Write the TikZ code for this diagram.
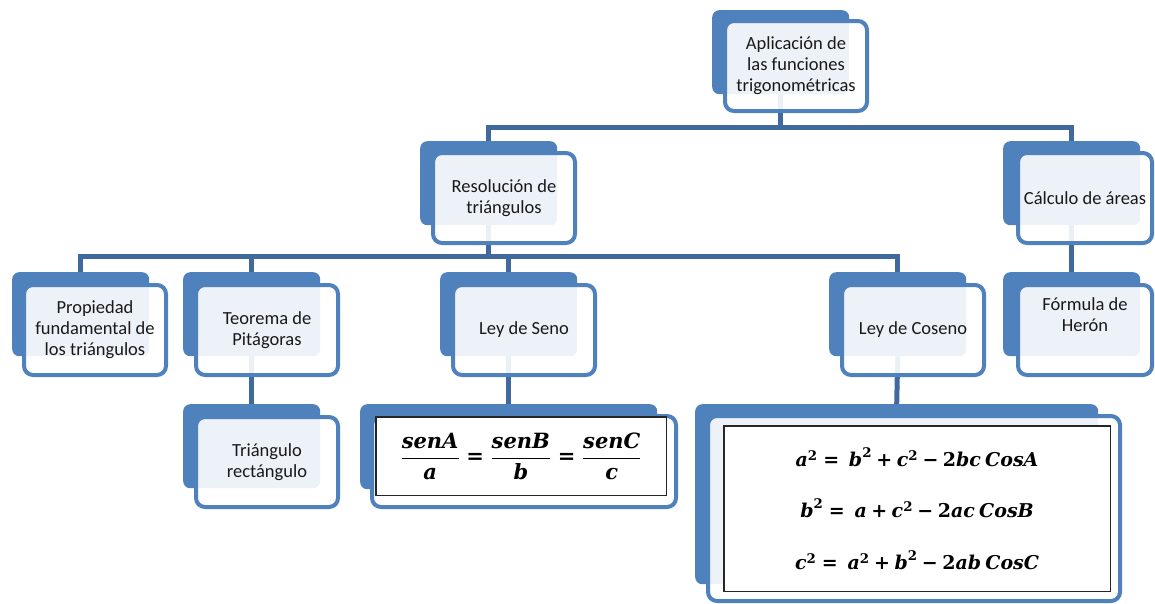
\documentclass[tikz,border=0pt]{standalone}
\usepackage{amsmath}
\usepackage{fontspec}
\setmainfont{Carlito}
\newfontfamily\dvs{DejaVu Serif}
\newcommand\fv[1]{\text{\dvs\bfseries\itshape #1}}
\newcommand\fd[1]{\text{\dvs\bfseries #1}}
\newcommand\meq{\mathrel{\fd{=}}}
\newcommand\mpl{\mathbin{\fd{+}}}
\newcommand\mmi{\mathbin{\fd{−}}}
\newcommand\sq{^{\fd{2}}}
\definecolor{acc}{RGB}{79,129,189}
\definecolor{conn}{RGB}{64,106,158}
\definecolor{txt}{RGB}{25,25,25}
\pgfdeclarelayer{bg}
\pgfsetlayers{bg,main}
\tikzset{
  backb/.style={fill=acc, rounded corners=7pt, inner sep=0pt, minimum width=137pt, minimum height=84pt, anchor=north west},
  frontb/.style={draw=acc, line width=4pt, fill=white, fill opacity=0.9, text opacity=1, rounded corners=9pt,
    inner sep=0pt, minimum width=142pt, minimum height=90pt, anchor=north west, align=center,
    text=txt, font=\fontsize{18.5}{21}\selectfont},
  plaintext/.style={inner sep=0pt, align=center, text=txt, font=\fontsize{18.5}{21}\selectfont},
  conline/.style={draw=conn, line width=5pt},
  inbox/.style={draw=black!85, line width=1.6pt, fill=white, inner sep=0pt, anchor=north west, align=center,
    font=\fontsize{19}{51.5}\selectfont\boldmath}
}
\begin{document}
\begin{tikzpicture}[x=1pt,y=-1pt]
\useasboundingbox (0,0) rectangle (1155,603);
% nodes
\node[backb] (top) at (712,10) {};
\node[frontb] (topF) at (723,19) {Aplicación de\\las funciones\\trigonométricas};

\node[backb] (res) at (420,141) {};
\node[frontb] (resF) at (431,151) {Resolución de\\triángulos};

\node[backb] (calc) at (1003,141) {};
\node[frontb, minimum width=134pt] (calcF) at (1016,151) {Cálculo de áreas};

\node[backb] (prop) at (12,272) {};
\node[frontb] (propF) at (22,283) {Propiedad\\fundamental de\\los triángulos};

\node[backb] (teo) at (183,272) {};
\node[frontb] (teoF) at (194,283) {Teorema de\\Pitágoras};

\node[backb] (seno) at (440,272) {};
\node[frontb] (senoF) at (451,283) {Ley de Seno};

\node[backb] (cos) at (829,272) {};
\node[frontb] (cosF) at (840,283) {Ley de Coseno};

\node[backb] (heron) at (1003,272) {};
\node[frontb, minimum width=134pt] (heronF) at (1016,283) {};
\node[plaintext, yshift=15pt] (heronT) at (heronF.center) {Fórmula de\\Herón};

\node[backb] (tri) at (183,404) {};
\node[frontb] (triF) at (194,415) {Triángulo\\rectángulo};

\node[backb, minimum width=297pt, minimum height=85pt] (senoX) at (360,404) {};
\node[frontb, minimum width=304pt, minimum height=91pt] (senoXF) at (370,414) {};
\node[inbox, minimum width=290.5pt, minimum height=78.5pt, font=\fontsize{21}{25}\selectfont\boldmath] (senoIn) at (375,416)
  {$\dfrac{\fv{senA}}{\fv{a}}\meq\dfrac{\fv{senB}}{\fv{b}}\meq\dfrac{\fv{senC}}{\fv{c}}$};

\node[backb, minimum width=403pt, minimum height=180pt] (cosX) at (695,404) {};
\node[frontb, minimum width=412pt, minimum height=185pt] (cosXF) at (706,414) {};
\node[inbox, minimum width=386.5pt, minimum height=165.5pt] (cosIn) at (723,425)
  {$\fv{a}\sq\meq\ \fv{b}\sq\mpl\fv{c}\sq\mmi\fd{2}\fv{bc}\ \fv{CosA}$\\
   $\fv{b}\sq\meq\ \fv{a}\mpl\fv{c}\sq\mmi\fd{2}\fv{ac}\ \fv{CosB}$\\
   $\fv{c}\sq\meq\ \fv{a}\sq\mpl\fv{b}\sq\mmi\fd{2}\fv{ab}\ \fv{CosC}$};

% connectors
\begin{pgfonlayer}{bg}
\coordinate (bar1) at (0,127);
\coordinate (bar2) at (0,256);
\draw[conline] (top.south) -- (top.south |- bar1) -| (res.north);
\draw[conline] (top.south |- bar1) -| (calc.north);
\draw[conline] (res.south) -- (res.south |- bar2) -| (prop.north);
\draw[conline] (res.south |- bar2) -| (teo.north);
\draw[conline] (res.south |- bar2) -| (seno.north);
\draw[conline] (res.south |- bar2) -| (cos.north);
\draw[conline] (calc.south) -- (heron.north);
\draw[conline] (teo.south) -- (tri.north);
\draw[conline] (seno.south) -- (senoX.north);
\draw[conline] (cos.south) -- (cosX.north);
\end{pgfonlayer}
\end{tikzpicture}
\end{document}
